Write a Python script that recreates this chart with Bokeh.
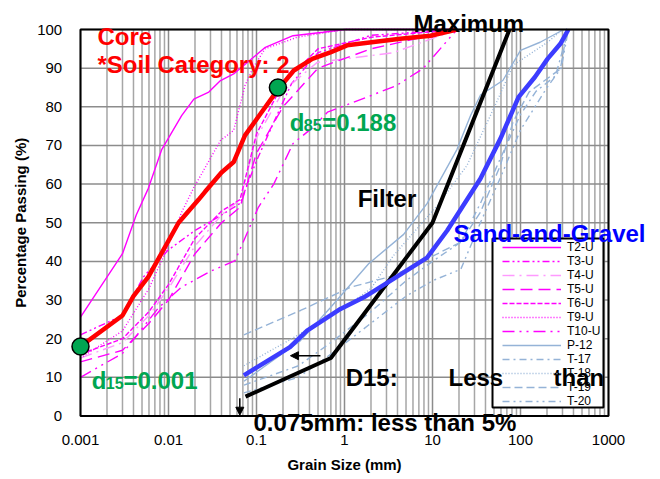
import numpy as np
from bokeh.plotting import figure
from bokeh.models import (Label, Legend, LegendItem, Arrow, NormalHead, BoxAnnotation, Range1d)
from bokeh.core.properties import value
from bokeh.embed import file_html
from bokeh.resources import INLINE

# ---------------- data ----------------
x_major = [0.001, 0.01, 0.1, 1, 10, 100, 1000]
x_major_labels = ["0.001", "0.01", "0.1", "1", "10", "100", "1000"]
x_minor = [m * d for d in [0.001, 0.01, 0.1, 1, 10, 100] for m in range(2, 10)]
y_major = [0, 10, 20, 30, 40, 50, 60, 70, 80, 90, 100]
y_major_labels = [str(v) for v in y_major]

core_d = [0.001, 0.003, 0.004, 0.0059, 0.0077, 0.013, 0.022, 0.026, 0.04, 0.055, 0.074,
          0.111, 0.172, 0.265, 0.43, 0.69, 1.07, 4.3, 9.5, 19]
core_p = [18, 26, 31, 36, 40.7, 50, 56, 58, 63, 65.7, 72.6,
          78.2, 84.2, 89.4, 92.4, 94.1, 95.9, 97.6, 98.4, 100]

sand_d = [0.0718, 0.24, 0.376, 0.9, 1.66, 3.6, 8.7, 14.7, 35, 59, 95, 146, 203, 284, 350]
sand_p = [10.5, 17.8, 22.1, 27.7, 30.7, 35.5, 41, 48, 61.4, 71.7, 82.5, 87.7, 92.4, 96.3, 100]

filt_d = [0.075, 0.7, 10, 75]
filt_p = [5, 15, 50, 100]

t2_d = [0.001, 0.003, 0.0043, 0.0059, 0.0084, 0.0141, 0.0194, 0.0287, 0.039, 0.055, 0.126, 0.26, 0.57, 1.0, 19]
t2_p = [25.6, 42, 52, 58.9, 69, 77.7, 82, 83.8, 86.8, 88.5, 95.4, 98.4, 99.3, 100, 100]
t3_d = [0.001, 0.003, 0.0052, 0.0075, 0.01, 0.02, 0.04, 0.065, 0.1, 0.157, 0.25, 0.5, 2, 19]
t3_p = [21, 26, 36, 40, 43, 48, 52, 55, 66, 76, 86, 94, 98.5, 100]
t4_d = [0.001, 0.003, 0.006, 0.01, 0.02, 0.04, 0.065, 0.1, 0.2, 0.49, 3.6, 19]
t4_p = [15, 19, 26, 33, 44, 52, 56, 72, 84, 91.5, 94, 100]
t5_d = [0.001, 0.003, 0.006, 0.01, 0.02, 0.04, 0.065, 0.1, 0.2, 0.5, 2, 19]
t5_p = [14, 17, 24, 30, 42, 50, 54, 68, 80, 90, 95, 100]
t6_d = [0.001, 0.003, 0.006, 0.01, 0.02, 0.04, 0.065, 0.1, 0.2, 0.5, 2, 19]
t6_p = [16, 20, 27, 34, 46, 53, 56, 73, 86, 95, 98, 100]
t9_d = [0.001, 0.003, 0.006, 0.0095, 0.0141, 0.0193, 0.039, 0.055, 0.074, 0.092, 0.125, 0.29, 1, 19]
t9_p = [15, 22, 33, 43, 52.7, 59, 71.3, 73.9, 85.5, 90.2, 95, 98, 100, 100]
t10_d = [0.001, 0.003, 0.0077, 0.014, 0.031, 0.057, 0.105, 0.157, 0.26, 0.44, 0.64, 1.8, 3.9, 7.8, 19]
t10_p = [10, 16.2, 28, 33.3, 37.6, 40.2, 54, 60, 70.5, 74.7, 78.6, 82.5, 85.5, 89.9, 100]

p12_d = [0.072, 0.316, 0.69, 1.88, 4.7, 8.7, 19, 27, 35, 63, 100, 167, 310]
p12_p = [9, 19.5, 28, 39.4, 47, 55, 69, 77.7, 83, 86.8, 94.6, 96.7, 100]
t17_d = [0.072, 0.3, 0.7, 2, 5, 10, 21, 35, 60, 100, 150, 250, 350]
t17_p = [8, 13, 19, 27, 35, 40, 45, 55, 67, 78, 84, 88, 100]
t18_d = [0.072, 0.3, 1, 2, 3.6, 11.4, 24.6, 49.5, 82, 203, 300]
t18_p = [13, 21, 28, 33, 41.5, 54.5, 64.8, 79.5, 90.7, 96.7, 100]
t19_d = [0.072, 0.316, 1.17, 3.6, 21, 35, 59, 82, 125, 284, 340]
t19_p = [21, 27.3, 33.3, 36.3, 45, 52.7, 64.8, 76, 83.8, 89.8, 100]
t20_d = [0.072, 0.3, 0.7, 2, 5, 10, 21, 35, 60, 100, 200, 290, 350]
t20_p = [6, 10, 16, 24, 31, 35, 38, 50, 62, 74, 85, 90, 100]

d_points = [0.001, 0.175]
p_points = [18, 85]

# ---------------- figure ----------------
# The frame covers the whole canvas; the chart box (0.001-1000, 0-100) is drawn inside it
W, H = 660, 479
BOX_L, BOX_R, BOX_T, BOX_B = 80, 608, 29, 415.5        # pixel box of the chart area
px_dec = (BOX_R - BOX_L) / 6.0
px_pct = (BOX_B - BOX_T) / 100.0
x_lo = 10 ** (-3 - BOX_L / px_dec)
x_hi = 10 ** (3 + (W - BOX_R) / px_dec)
y_lo = -(H - BOX_B) / px_pct
y_hi = 100 + BOX_T / px_pct

FONT = "Liberation Sans"
p = figure(width=W, height=H, x_axis_type="log", title=None,
           x_range=Range1d(x_lo, x_hi), y_range=Range1d(y_lo, y_hi),
           x_axis_location=None, y_axis_location=None,
           output_backend="svg", toolbar_location=None,
           min_border=0)
p.background_fill_color = "white"
p.border_fill_color = "white"
p.outline_line_color = None
p.xgrid.visible = False
p.ygrid.visible = False

# grid
p.segment(x0=x_minor, y0=0, x1=x_minor, y1=100, line_color="#A6A6A6", line_width=1.5)
p.segment(x0=x_major, y0=0, x1=x_major, y1=100, line_color="#8C8C8C", line_width=1.5)
p.segment(x0=0.001, y0=y_major, x1=1000, y1=y_major, line_color="#8C8C8C", line_width=1.5)

# tick labels and axis titles
p.text(x=x_major, y=-6.3, text=x_major_labels, text_font=value(FONT), text_font_size="15px",
       text_align="center", text_baseline="middle", text_color="black")
p.text(x=10 ** (-3 - 18.3 / px_dec), y=y_major, text=y_major_labels, text_font=value(FONT),
       text_font_size="15px", text_align="right", text_baseline="middle", text_color="black")
p.text(x=[1.0], y=[-12.6], text=["Grain Size (mm)"], text_font=value(FONT),
       text_font_style="bold", text_font_size="15px", text_align="center",
       text_baseline="middle", text_color="black")
p.text(x=[10 ** (-3 - 60 / px_dec)], y=[50], text=["Percentage Passing (%)"],
       text_font=value(FONT), text_font_style="bold", text_font_size="15px",
       text_align="center", text_baseline="middle", angle=np.pi / 2, text_color="black")

MAG = "#FF00FF"
PINK = "#FF99FF"
LB = "#95B3D7"
TW = 1.4

r_t2 = p.line(t2_d, t2_p, line_color=MAG, line_width=TW)
r_t3 = p.line(t3_d, t3_p, line_color=MAG, line_width=TW, line_dash="7 3 2 3 2 3")
r_t4 = p.line(t4_d, t4_p, line_color=PINK, line_width=TW, line_dash="12 5 2 5")
r_t5 = p.line(t5_d, t5_p, line_color=MAG, line_width=TW, line_dash="12 6")
r_t6 = p.line(t6_d, t6_p, line_color=MAG, line_width=TW, line_dash="5 2")
r_t9 = p.line(t9_d, t9_p, line_color=MAG, line_width=TW, line_dash="1 2")
r_t10 = p.line(t10_d, t10_p, line_color=MAG, line_width=TW, line_dash="12 5 2 5 2 5")
r_p12 = p.line(p12_d, p12_p, line_color=LB, line_width=TW)
r_t17 = p.line(t17_d, t17_p, line_color=LB, line_width=TW, line_dash="7 4 2 4")
r_t18 = p.line(t18_d, t18_p, line_color=LB, line_width=TW, line_dash="1 2")
r_t19 = p.line(t19_d, t19_p, line_color=LB, line_width=TW, line_dash="8 4")
r_t20 = p.line(t20_d, t20_p, line_color=LB, line_width=TW, line_dash="7 4 2 4 2 4")

p.line(filt_d, filt_p, line_color="black", line_width=4)
p.line(sand_d, sand_p, line_color="#3C3CFF", line_width=4.5)
p.line(core_d, core_p, line_color="#FF0000", line_width=4.5)

# chart box outline
p.quad(left=[0.001], right=[1000], bottom=[0], top=[100], fill_color=None,
       line_color="black", line_width=2)

# green d15 / d85 markers
p.scatter(d_points, p_points, size=17, fill_color="#00A651", line_color="black", line_width=1.5)

# legend box + legend
p.add_layout(BoxAnnotation(left=48.07, right=877, bottom=2.2, top=45.9,
                           fill_color="white", fill_alpha=1,
                           line_color="black", line_width=2, line_alpha=1))
items = [LegendItem(label=l, renderers=[r]) for l, r in [
    ("T2-U", r_t2), ("T3-U", r_t3), ("T4-U", r_t4), ("T5-U", r_t5), ("T6-U", r_t6),
    ("T9-U", r_t9), ("T10-U", r_t10), ("P-12", r_p12), ("T-17", r_t17), ("T-18", r_t18),
    ("T-19", r_t19), ("T-20", r_t20)]]
legend = Legend(items=items, location=(502, 71), padding=0, margin=0, spacing=0,
                label_height=14, glyph_height=14, glyph_width=59, label_standoff=6,
                label_text_font=FONT, label_text_font_size="12px",
                label_text_color="black",
                border_line_alpha=0, background_fill_alpha=0)
p.add_layout(legend)

# ---------------- annotations ----------------
def lab(x, y, text, color="black", size="24px", align="left"):
    p.add_layout(Label(x=x, y=y, text=text, text_color=color, text_font=FONT,
                       text_font_style="bold", text_font_size=size,
                       text_align=align, text_baseline="alphabetic"))

RED, GREEN, BLUE = "#FF0000", "#00A651", "#0000FF"
lab(0.00156, 98.2, "Core", RED)
lab(0.00156, 90.9, "*Soil Category: 2", RED)
lab(6.08, 101.5, "Maximum")
lab(1.41, 56.2, "Filter")
lab(17.3, 47.3, "Sand-and-Gravel", BLUE)
lab(1.03, 10.0, "D15:")
lab(15.2, 10.0, "Less")
lab(237, 10.0, "than")
lab(0.0925, -1.7, "0.075mm: less than 5%")
# d85 = 0.188
lab(0.239, 75.9, "d", GREEN)
lab(0.345, 75.2, "85", GREEN, "16px")
lab(0.558, 75.9, "=0.188", GREEN)
# d15 = 0.001
lab(0.00134, 9.2, "d", GREEN)
lab(0.00194, 8.5, "15", GREEN, "16px")
lab(0.00308, 9.2, "=0.001", GREEN)

arrow_down = dict(x0=0.0646, y0=4.6, x1=0.0646, y1=0.2)
arrow_left = dict(x0=0.533, y0=15.6, x1=0.243, y1=15.6)
for a in (arrow_down, arrow_left):
    p.add_layout(Arrow(end=NormalHead(size=8, fill_color="black", line_color="black"),
                       x_start=a["x0"], y_start=a["y0"], x_end=a["x1"], y_end=a["y1"],
                       line_color="black", line_width=1.5))

open("out.html", "w").write(file_html(p, INLINE))
